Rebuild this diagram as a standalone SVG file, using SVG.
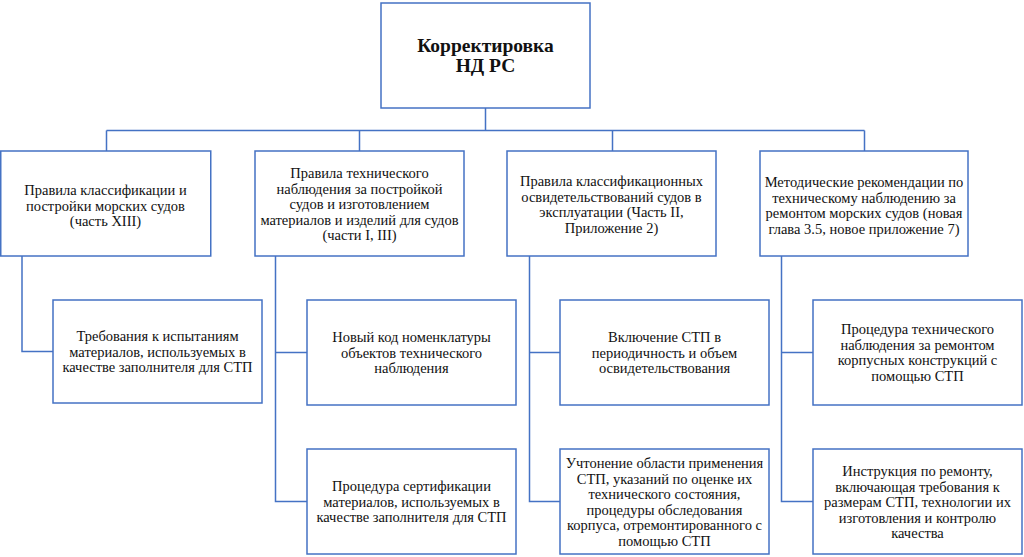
<svg xmlns="http://www.w3.org/2000/svg" width="1024" height="557" viewBox="0 0 1024 557">
<style>
.box{fill:#fff;stroke:#4472C4;stroke-width:1.5}
.con{fill:none;stroke:#4472C4;stroke-width:1.5}
.t{font-family:"Liberation Serif","Times New Roman",serif;font-size:14.5px;text-anchor:middle;fill:#111}
.h{font-family:"Liberation Serif","Times New Roman",serif;font-size:19.5px;font-weight:bold;text-anchor:middle;fill:#111}
</style>
<rect width="1024" height="557" fill="#fff"/>
<g id="connectors">
<path class="con" d="M485.5,108 V130.5 M106.5,130.5 H864.5 M106.5,130.5 V151 M359.5,130.5 V151 M612.5,130.5 V151 M864.5,130.5 V151"/>
<path class="con" d="M22,256 V351.5 H53"/>
<path class="con" d="M275.5,256 V501.5 H307 M275.5,352.5 H307"/>
<path class="con" d="M529.5,256 V501.5 H560 M529.5,352.5 H560"/>
<path class="con" d="M781.5,256 V501.5 H813 M781.5,352.5 H813"/>
</g>
<g id="root">
<rect class="box" x="381" y="3" width="209" height="105"/>
<text class="h" x="485.5" y="52">Корректировка</text>
<text class="h" x="485.5" y="72">НД РС</text>
</g>
<g id="n1">
<rect class="box" x="0.75" y="151" width="210" height="105"/>
<text class="t" x="105.5"><tspan x="105.5" y="195">Правила классификации и</tspan><tspan x="105.5" y="210.5">постройки морских судов</tspan><tspan x="105.5" y="226">(часть XIII)</tspan></text>
</g>
<g id="n2">
<rect class="box" x="255" y="151" width="209" height="105"/>
<text class="t"><tspan x="359.5" y="178">Правила технического</tspan><tspan x="359.5" y="193.5">наблюдения за постройкой</tspan><tspan x="359.5" y="209">судов и изготовлением</tspan><tspan x="359.5" y="224.5">материалов и изделий для судов</tspan><tspan x="359.5" y="240">(части I,  III)</tspan></text>
</g>
<g id="n3">
<rect class="box" x="507" y="151" width="209" height="105"/>
<text class="t"><tspan x="611.5" y="186">Правила классификационных</tspan><tspan x="611.5" y="201.5">освидетельствований судов в</tspan><tspan x="611.5" y="217">эксплуатации (Часть II,</tspan><tspan x="611.5" y="232.5">Приложение 2)</tspan></text>
</g>
<g id="n4">
<rect class="box" x="760" y="151" width="208" height="105"/>
<text class="t"><tspan x="864" y="187">Методические рекомендации по</tspan><tspan x="864" y="202.5">техническому наблюдению за</tspan><tspan x="864" y="218">ремонтом морских судов (новая</tspan><tspan x="864" y="233.5">глава 3.5, новое приложение 7)</tspan></text>
</g>
<g id="n1a">
<rect class="box" x="53" y="300" width="209" height="103"/>
<text class="t"><tspan x="157.5" y="341">Требования к испытаниям</tspan><tspan x="157.5" y="356.5">материалов, используемых в</tspan><tspan x="157.5" y="372">качестве заполнителя для СТП</tspan></text>
</g>
<g id="n2a">
<rect class="box" x="307" y="300" width="209" height="105"/>
<text class="t"><tspan x="411.5" y="342">Новый код номенклатуры</tspan><tspan x="411.5" y="357.5">объектов технического</tspan><tspan x="411.5" y="373">наблюдения</tspan></text>
</g>
<g id="n2b">
<rect class="box" x="307" y="449" width="209" height="105"/>
<text class="t"><tspan x="411.5" y="491">Процедура сертификации</tspan><tspan x="411.5" y="506.5">материалов, используемых в</tspan><tspan x="411.5" y="522">качестве заполнителя для СТП</tspan></text>
</g>
<g id="n3a">
<rect class="box" x="560" y="300" width="209" height="105"/>
<text class="t"><tspan x="664.5" y="342">Включение СТП в</tspan><tspan x="664.5" y="357.5">периодичность и объем</tspan><tspan x="664.5" y="373">освидетельствования</tspan></text>
</g>
<g id="n3b">
<rect class="box" x="560" y="449" width="209" height="105"/>
<text class="t"><tspan x="664.5" y="468">Учтонение области применения</tspan><tspan x="664.5" y="483.5">СТП, указаний по оценке их</tspan><tspan x="664.5" y="499">технического состояния,</tspan><tspan x="664.5" y="514.5">процедуры обследования</tspan><tspan x="664.5" y="530">корпуса, отремонтированного с</tspan><tspan x="664.5" y="545.5">помощью СТП</tspan></text>
</g>
<g id="n4a">
<rect class="box" x="813" y="300" width="209" height="105"/>
<text class="t"><tspan x="917.5" y="334">Процедура технического</tspan><tspan x="917.5" y="349.5">наблюдения за ремонтом</tspan><tspan x="917.5" y="365">корпусных конструкций с</tspan><tspan x="917.5" y="380.5">помощью СТП</tspan></text>
</g>
<g id="n4b">
<rect class="box" x="813" y="449" width="209" height="105"/>
<text class="t"><tspan x="917.5" y="476">Инструкция по ремонту,</tspan><tspan x="917.5" y="491.5">включающая требования к</tspan><tspan x="917.5" y="507">размерам СТП, технологии их</tspan><tspan x="917.5" y="522.5">изготовления и контролю</tspan><tspan x="917.5" y="538">качества</tspan></text>
</g>
</svg>
